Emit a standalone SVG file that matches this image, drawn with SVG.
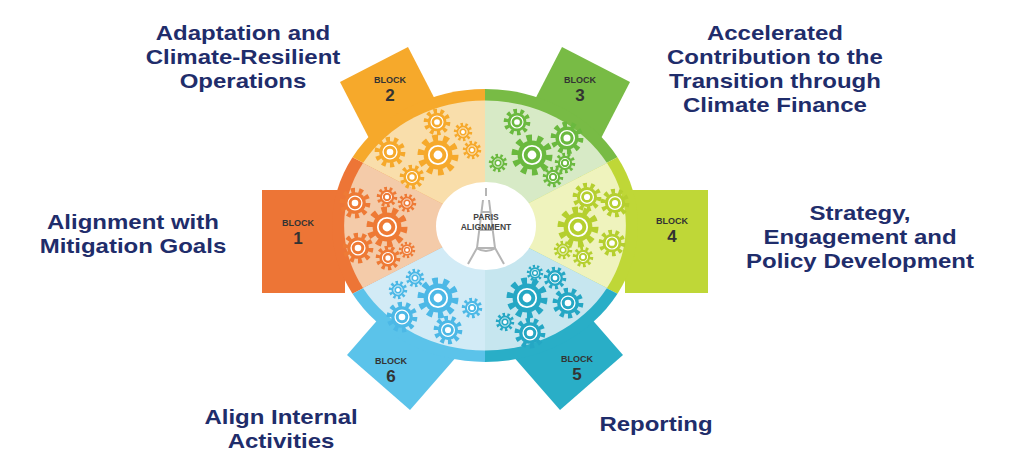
<svg xmlns="http://www.w3.org/2000/svg" xmlns:xlink="http://www.w3.org/1999/xlink" width="1016" height="466" viewBox="0 0 1016 466">
<style>
.lbl{font-family:"Liberation Sans",Arial,sans-serif;font-weight:bold;font-size:20px;fill:#1f2d6b;text-anchor:middle}
.bk{font-family:"Liberation Sans",Arial,sans-serif;font-weight:bold;font-size:9px;fill:#333;text-anchor:middle}
.bn{font-family:"Liberation Sans",Arial,sans-serif;font-weight:bold;font-size:17px;fill:#333;text-anchor:middle}
.pa{font-family:"Liberation Sans",Arial,sans-serif;font-weight:bold;font-size:8.5px;fill:#444;text-anchor:middle}
</style>
<defs>
<g id="gear">
<circle r="8.5" fill="none" stroke="currentColor" stroke-width="3.5" stroke-dasharray="2.7 2.6"/>
<circle r="7.2" fill="currentColor"/>
<circle r="4.6" fill="none" stroke="#fff" stroke-width="0.9"/>
<circle r="2.2" fill="#fff"/>
</g>
</defs>
<rect width="1016" height="466" fill="#fff"/>
<g id="tabs">
<polygon points="262,190 345,190 345,293 262,293" fill="#ed7536"/>
<polygon points="340,82 408,47 458,144 390,179" fill="#f6a92b"/>
<polygon points="630,82 562,47 512,144 580,179" fill="#78bb45"/>
<polygon points="708,190 625,190 625,293 708,293" fill="#bfd737"/>
<polygon points="623,355 560,410 505,347 568,292" fill="#29aec7"/>
<polygon points="347,355 410,410 465,347 402,292" fill="#5bc3ea"/>
</g>
<g id="ring">
<path d="M485,225.5 L352.5,293.75 A153,136.5 0 0 1 352.5,157.25 Z" fill="#ed7536"/>
<path d="M485,225.5 L352.5,157.25 A153,136.5 0 0 1 485,89 Z" fill="#f6a92b"/>
<path d="M485,225.5 L485,89 A153,136.5 0 0 1 617.5,157.25 Z" fill="#78bb45"/>
<path d="M485,225.5 L617.5,157.25 A153,136.5 0 0 1 617.5,293.75 Z" fill="#bfd737"/>
<path d="M485,225.5 L617.5,293.75 A153,136.5 0 0 1 485,362 Z" fill="#29aec7"/>
<path d="M485,225.5 L485,362 A153,136.5 0 0 1 352.5,293.75 Z" fill="#5bc3ea"/>
<path d="M485,225.5 L363,288 A141,125 0 0 1 363,163 Z" fill="#f4cba9"/>
<path d="M485,225.5 L363,163 A141,125 0 0 1 485,100.5 Z" fill="#f9deab"/>
<path d="M485,225.5 L485,100.5 A141,125 0 0 1 607,163 Z" fill="#d7eac6"/>
<path d="M485,225.5 L607,163 A141,125 0 0 1 607,288 Z" fill="#eff3bd"/>
<path d="M485,225.5 L607,288 A141,125 0 0 1 485,350.5 Z" fill="#c6e6ef"/>
<path d="M485,225.5 L485,350.5 A141,125 0 0 1 363,288 Z" fill="#d2ebf6"/>
</g>
<g id="gears">
<g color="#ee7a35">
<use href="#gear" transform="translate(355,203) scale(1.5)"/>
<use href="#gear" transform="translate(387,197) scale(1)"/>
<use href="#gear" transform="translate(407,203) scale(0.9)"/>
<use href="#gear" transform="translate(387,227) scale(2)"/>
<use href="#gear" transform="translate(358,248) scale(1.5)"/>
<use href="#gear" transform="translate(388,258) scale(1.2)"/>
<use href="#gear" transform="translate(407,250) scale(0.8)"/>
</g>
<g color="#f6a92b">
<use href="#gear" transform="translate(437,122) scale(1.3)"/>
<use href="#gear" transform="translate(463,132) scale(0.9)"/>
<use href="#gear" transform="translate(438,155) scale(2)"/>
<use href="#gear" transform="translate(390,152) scale(1.5)"/>
<use href="#gear" transform="translate(412,177) scale(1.2)"/>
<use href="#gear" transform="translate(472,150) scale(0.9)"/>
</g>
<g color="#6ab93f">
<use href="#gear" transform="translate(517,122) scale(1.3)"/>
<use href="#gear" transform="translate(567,138) scale(1.6)"/>
<use href="#gear" transform="translate(532,155) scale(2)"/>
<use href="#gear" transform="translate(498,163) scale(0.9)"/>
<use href="#gear" transform="translate(565,163) scale(1)"/>
<use href="#gear" transform="translate(553,177) scale(1)"/>
</g>
<g color="#b5cf2f">
<use href="#gear" transform="translate(587,197) scale(1.4)"/>
<use href="#gear" transform="translate(615,203) scale(1.4)"/>
<use href="#gear" transform="translate(578,227) scale(2)"/>
<use href="#gear" transform="translate(612,243) scale(1.3)"/>
<use href="#gear" transform="translate(563,250) scale(0.9)"/>
<use href="#gear" transform="translate(583,257) scale(1)"/>
</g>
<g color="#25a7c4">
<use href="#gear" transform="translate(535,273) scale(0.8)"/>
<use href="#gear" transform="translate(555,278) scale(1.1)"/>
<use href="#gear" transform="translate(527,298) scale(2)"/>
<use href="#gear" transform="translate(568,303) scale(1.5)"/>
<use href="#gear" transform="translate(505,322) scale(0.9)"/>
<use href="#gear" transform="translate(530,333) scale(1.5)"/>
</g>
<g color="#4cb8e6">
<use href="#gear" transform="translate(415,278) scale(0.9)"/>
<use href="#gear" transform="translate(398,290) scale(0.9)"/>
<use href="#gear" transform="translate(438,298) scale(2)"/>
<use href="#gear" transform="translate(402,317) scale(1.5)"/>
<use href="#gear" transform="translate(472,308) scale(1)"/>
<use href="#gear" transform="translate(448,330) scale(1.4)"/>
</g>
</g>
<g id="center">
<ellipse cx="486" cy="226" rx="50" ry="44" fill="#fff"/>
<path d="M486,188 L486,196 M483,200 L477,248 L468,264 M489,200 L495,248 L504,264 M482,212 L490,212 M479,230 L493,230 M476,248 L496,248 M476,248 Q486,254 496,248" fill="none" stroke="#b5b5b5" stroke-width="2"/>
<text class="pa" x="486" y="220">PARIS</text>
<text class="pa" x="486" y="230">ALIGNMENT</text>
</g>
<g id="blocks">
<text class="bk" x="298" y="226">BLOCK</text><text class="bn" x="298" y="244">1</text>
<text class="bk" x="390" y="83">BLOCK</text><text class="bn" x="390" y="101">2</text>
<text class="bk" x="580" y="83">BLOCK</text><text class="bn" x="580" y="101">3</text>
<text class="bk" x="672" y="224">BLOCK</text><text class="bn" x="672" y="242">4</text>
<text class="bk" x="577" y="362">BLOCK</text><text class="bn" x="577" y="380">5</text>
<text class="bk" x="391" y="364">BLOCK</text><text class="bn" x="391" y="382">6</text>
</g>
<g id="labels" transform="scale(1.2,1)">
<text class="lbl" x="202.5" y="40">Adaptation and</text>
<text class="lbl" x="202.5" y="64">Climate-Resilient</text>
<text class="lbl" x="202.5" y="88">Operations</text>
<text class="lbl" x="645.8" y="40">Accelerated</text>
<text class="lbl" x="645.8" y="64">Contribution to the</text>
<text class="lbl" x="645.8" y="88">Transition through</text>
<text class="lbl" x="645.8" y="112">Climate Finance</text>
<text class="lbl" x="110.8" y="229">Alignment with</text>
<text class="lbl" x="110.8" y="253">Mitigation Goals</text>
<text class="lbl" x="716.7" y="220">Strategy,</text>
<text class="lbl" x="716.7" y="244">Engagement and</text>
<text class="lbl" x="716.7" y="268">Policy Development</text>
<text class="lbl" x="234.2" y="424">Align Internal</text>
<text class="lbl" x="234.2" y="448">Activities</text>
<text class="lbl" x="546.7" y="431">Reporting</text>
</g>
</svg>
